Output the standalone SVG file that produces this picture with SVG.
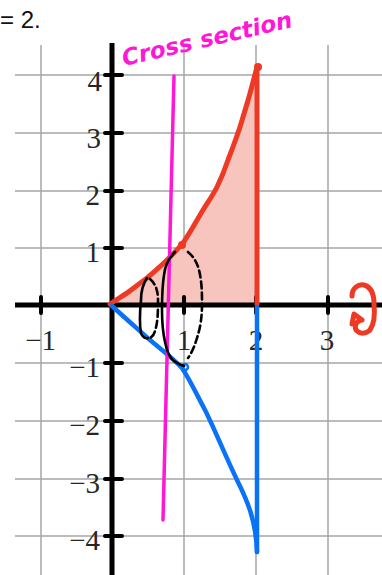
<svg xmlns="http://www.w3.org/2000/svg" width="382" height="575" viewBox="0 0 382 575">
<style>
.grid{stroke:#a6a6a6;stroke-width:1.5;fill:none}
.axis{stroke:#000;stroke-width:5;fill:none}
.tick{stroke:#000;stroke-width:4;stroke-linecap:round}
.lbl{font-family:"Liberation Serif",serif;font-size:29px;fill:#262626}
.red{stroke:#ee3a24;stroke-width:5;fill:none;stroke-linecap:round;stroke-linejoin:round}
.blue{stroke:#0a72f5;stroke-width:4.5;fill:none;stroke-linecap:round;stroke-linejoin:round}
.ink{stroke:#000;stroke-width:2.6;fill:none;stroke-linecap:round;stroke-linejoin:round}
.dash{stroke-dasharray:7 4}
</style>
<rect width="382" height="575" fill="#fff"/>
<text x="0" y="28" font-family="Liberation Sans, sans-serif" font-size="24" fill="#111">= 2.</text>
<g id="grid">
<path class="grid" d="M41,45V575M184,45V575M256,45V575M328,45V575"/>
<path class="grid" d="M15,75H382M15,133H382M15,191H382M15,248H382M15,363H382M15,421H382M15,479H382M15,536H382"/>
</g>
<g id="region">
<path d="M112,304 C120,299 127,293 127,293 L147,278 L167,260 L183,243 L203,210 L217,187 L228,160 L240,127 L257,67 L257,304 Z" fill="#f7c4be"/>
</g>
<g id="axes">
<path class="axis" d="M112,43V575"/>
<path class="axis" d="M15,305H382"/>
<path class="tick" d="M105,75H122M105,133H122M105,191H122M105,248H122M105,363H122M105,421H122M105,479H122M105,536H122"/>
<path class="tick" d="M41,297V313M184,297V313M256,297V313M328,297V313"/>
</g>
<g id="labels">
<text class="lbl" x="102" y="91" text-anchor="end">4</text>
<text class="lbl" x="101" y="148" text-anchor="end">3</text>
<text class="lbl" x="100" y="205" text-anchor="end">2</text>
<text class="lbl" x="100" y="262" text-anchor="end">1</text>
<text class="lbl" x="100" y="377" text-anchor="end">−1</text>
<text class="lbl" x="100" y="435" text-anchor="end">−2</text>
<text class="lbl" x="100" y="493" text-anchor="end">−3</text>
<text class="lbl" x="100" y="550" text-anchor="end">−4</text>
<text class="lbl" x="56" y="350" text-anchor="end">−1</text>
<text class="lbl" x="184" y="350" text-anchor="middle">1</text>
<text class="lbl" x="256" y="350" text-anchor="middle">2</text>
<text class="lbl" x="327" y="350" text-anchor="middle">3</text>
</g>
<g id="connectors">
<path id="red-curve" class="red" d="M110,304 C118,299 122,296 127,293 C134,288 140,283 147,278 C154,272 161,266 167,260 C173,254 178,249 183,243 C190,233 197,220 203,210 C208,202 213,195 217,187 C221,179 225,169 228,160 C233,147 236,139 240,127 C246,108 252,87 257,67"/>
<path id="red-line" class="red" d="M257,67V304"/>
<circle cx="258" cy="67" r="4" fill="#ee3a24"/>
<circle cx="182" cy="245" r="4" fill="#ee3a24"/>
<path id="blue-curve" class="blue" d="M112,306 C125,318 140,331 150,340 C162,350 174,359 182,368 C190,380 197,395 205,410 C215,430 225,455 237,480 C247,500 256,520 257,552"/>
<path id="blue-line" class="blue" d="M257,307V552"/>
<circle cx="185" cy="367" r="3" fill="none" stroke="#0a72f5" stroke-width="2.5"/>
<path id="cross-section" d="M174,76 L163,520" stroke="#ff16d6" stroke-width="3.5" stroke-linecap="round" fill="none"/>
</g>
<g id="small-disc">
<path class="ink" d="M147,278 C143,284 141,292 141,300 C140,310 139,322 141,333 C142,337 146,339 148,338"/>
<path class="ink dash" d="M150,279 C155,283 158,290 158,300 C158,310 158,322 155,331 C154,335 152,337 150,338"/>
</g>
<g id="big-disc">
<path class="ink" d="M175,252 C169,258 165,265 164,275 C162,288 162,300 162,310 C162,322 163,333 165,342 C167,352 170,358 174,361 C178,364 181,365 184,366"/>
<path class="ink dash" d="M188,252 C193,256 197,262 199,270 C202,282 202,294 202,305 C202,318 200,329 197,338 C194,348 191,354 188,358"/>
</g>
<g id="rotation">
<path class="red" stroke-width="3.5" d="M352,296 C352,288 358,284 364,285 C371,287 374,294 374,304 C375,314 374,324 370,330 C366,334 360,334 357,331 C354,328 355,323 359,321"/>
<path class="red" stroke-width="3.5" d="M352,324 L354,314 L362,320"/>
</g>
<g id="title">
<text x="124" y="66" transform="rotate(-13 124 66)" font-family="DejaVu Sans, sans-serif" font-weight="bold" font-style="oblique" font-size="23" fill="#ff16d6" textLength="174" lengthAdjust="spacingAndGlyphs">Cross section</text>
</g>
</svg>
